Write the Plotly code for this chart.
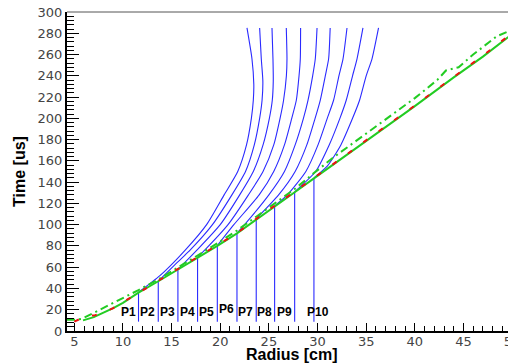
import plotly.graph_objects as go

# Probe positions and arrival times on the trajectory
probe_names = ["P1", "P2", "P3", "P4", "P5", "P6", "P7", "P8", "P9", "P10"]
probe_r = [11.6, 13.63, 15.65, 17.67, 19.7, 21.72, 23.7, 25.59, 27.65, 29.63]
probe_t = [36.4, 47.0, 58.0, 69.4, 80.3, 92.0, 105.5, 117.7, 130.9, 144.0]
probe_base_t = 8.8

# Red dashed trajectory
red_r = [5.0, 5.7, 6.3, 7.0, 8.0, 9.0, 10.0, 11.6, 13.63, 15.65, 17.67, 19.7, 21.72, 23.7,
         25.59, 27.65, 29.63, 33.0, 36.0, 40.0, 44.0, 47.0, 50.4]
red_t = [8.8, 12.0, 14.5, 14.5, 17.5, 21.5, 27.0, 36.4, 47.0, 58.0, 69.4, 80.3, 92.0, 105.5,
         117.7, 130.9, 144.0, 166.0, 186.0, 212.0, 239.0, 259.0, 283.0]

# Green solid line
gs_r = [5.9, 7.0, 8.0, 9.0, 10.0, 11.6, 13.63, 15.65, 17.67, 19.7, 21.72, 23.7,
        25.59, 27.65, 29.63, 33.0, 36.0, 40.0, 44.0, 47.0, 50.4]
gs_t = [10.0, 13.0, 17.3, 21.5, 26.5, 36.0, 46.8, 57.8, 69.2, 80.0, 91.8, 105.0,
        117.5, 130.5, 143.5, 165.5, 185.5, 211.5, 238.5, 258.0, 282.0]

# Green dash-dot line
gd_r = [4.25, 5.0, 5.8, 7.0, 8.5, 10.0, 11.6, 13.63, 15.65, 17.67, 19.7, 21.72, 23.7,
        25.59, 27.65, 29.63, 31.6, 34.0, 37.0, 40.0, 42.3, 43.2, 44.5, 46.0, 48.4, 50.4]
gd_t = [10.5, 10.5, 11.5, 17.0, 24.0, 31.0, 38.5, 48.5, 59.5, 71.0, 82.5, 94.5, 107.5,
        120.0, 133.5, 148.5, 163.0, 179.0, 199.0, 219.0, 236.0, 245.0, 248.0, 260.0, 277.0, 285.0]

# Blue curves starting from each probe point
curve_r = [
    [11.6, 13.8, 16.4, 18.6, 20.4, 21.8, 22.7, 23.2, 23.4, 23.45, 23.26, 22.75],
    [13.63, 15.3, 16.9, 19.2, 21.2, 22.6, 23.5, 24.05, 24.3, 24.38, 24.22, 24.05],
    [15.65, 17.6, 20.0, 22.0, 23.4, 24.4, 25.05, 25.35, 25.45, 25.42, 25.32],
    [17.67, 18.4, 20.8, 22.9, 24.4, 25.5, 26.15, 26.51, 26.8, 26.86, 26.79],
    [19.7, 21.4, 24.0, 25.5, 26.6, 27.35, 27.82, 28.1, 28.23, 28.26],
    [21.72, 22.5, 25.0, 26.6, 27.7, 28.55, 29.02, 29.5, 29.77, 29.95],
    [23.7, 26.0, 27.7, 28.9, 29.75, 30.28, 30.8, 31.14, 31.3],
    [25.59, 26.9, 28.8, 30.05, 31.0, 31.65, 32.2, 32.62, 33.03],
    [27.65, 29.8, 31.2, 32.3, 32.95, 33.6, 34.06, 34.67],
    [29.63, 31.0, 32.4, 33.6, 34.32, 35.0, 35.6, 36.27],
]
curve_t = [
    [36.4, 52.0, 76.0, 100.0, 128.0, 150.0, 175.0, 200.0, 217.0, 232.0, 256.0, 285.0],
    [47.0, 62.0, 76.0, 100.0, 128.0, 150.0, 175.0, 200.0, 217.0, 235.0, 256.0, 285.0],
    [58.0, 76.0, 100.0, 128.0, 150.0, 175.0, 200.0, 217.0, 235.0, 256.0, 285.0],
    [69.4, 76.0, 100.0, 128.0, 150.0, 175.0, 200.0, 217.0, 240.0, 256.0, 285.0],
    [80.3, 100.0, 128.0, 150.0, 175.0, 200.0, 217.0, 240.0, 256.0, 285.0],
    [92.0, 100.0, 128.0, 150.0, 175.0, 200.0, 217.0, 240.0, 256.0, 285.0],
    [105.5, 128.0, 150.0, 175.0, 200.0, 217.0, 240.0, 256.0, 285.0],
    [117.7, 128.0, 150.0, 175.0, 200.0, 217.0, 240.0, 256.0, 285.0],
    [130.9, 150.0, 175.0, 200.0, 217.0, 240.0, 256.0, 285.0],
    [144.0, 155.0, 175.0, 200.0, 217.0, 240.0, 256.0, 285.0],
]

label_t = [18.2, 18.2, 18.2, 18.2, 18.2, 20.4, 18.2, 18.2, 18.2, 18.2]

x_title = "Radius [cm]"
y_title = "Time [us]"

BLUE = "#2a2aff"
fig = go.Figure()

for r, t in zip(curve_r, curve_t):
    fig.add_trace(go.Scatter(x=r, y=t, mode="lines", line=dict(color=BLUE, width=1.1, shape="spline", smoothing=0.6),
                             showlegend=False, hoverinfo="skip"))

for r, t in zip(probe_r, probe_t):
    fig.add_trace(go.Scatter(x=[r, r], y=[probe_base_t, t], mode="lines",
                             line=dict(color=BLUE, width=1.1), showlegend=False, hoverinfo="skip"))

fig.add_trace(go.Scatter(x=gd_r, y=gd_t, mode="lines",
                         line=dict(color="#22cc22", width=2, dash="8px,4px,2px,4px"),
                         showlegend=False))
fig.add_trace(go.Scatter(x=gs_r, y=gs_t, mode="lines", line=dict(color="#22cc22", width=2),
                         showlegend=False))
fig.add_trace(go.Scatter(x=red_r, y=red_t, mode="lines",
                         line=dict(color="#ee1111", width=2, dash="5px,14px"),
                         showlegend=False))

for i, (name, r, t) in enumerate(zip(probe_names, probe_r, label_t)):
    if i < 9:
        fig.add_annotation(x=r, y=t, text="<b>%s</b>" % name, showarrow=False,
                           xanchor="right", xshift=-1, font=dict(family="Liberation Sans, Arial", size=12, color="#000"))
    else:
        fig.add_annotation(x=r, y=t, text="<b>%s</b>" % name, showarrow=False,
                           xanchor="center", xshift=4, font=dict(family="Liberation Sans, Arial", size=12, color="#000"))

# x-axis title as a paper annotation below the tick labels
fig.add_annotation(x=0.5, y=0, xref="paper", yref="paper", text="<b>%s</b>" % x_title,
                   showarrow=False, xanchor="center", yanchor="top", yshift=-13,
                   font=dict(family="Liberation Sans, Arial", size=16, color="#000"))

fig.add_shape(type="line", xref="paper", yref="paper", x0=0, x1=1, y0=1, y1=1,
              line=dict(color="#555555", width=1))

fig.update_layout(
    width=508, height=356,
    margin=dict(l=59, r=0, t=4, b=33),
    paper_bgcolor="white", plot_bgcolor="white",
    showlegend=False,
    xaxis=dict(range=[4.25, 50.4], tickmode="linear", tick0=5, dtick=5,
               ticks="inside", ticklen=8, tickwidth=1, tickcolor="#000",
               minor=dict(dtick=1, tick0=5, ticks="inside", ticklen=5, tickcolor="#000"),
               showline=True, linecolor="#000", linewidth=2, showgrid=False, zeroline=False,
               tickfont=dict(family="DejaVu Sans", size=13, color="#444"),
               ticklabeloverflow="allow", ticklabelstandoff=-3,
               automargin=False),
    yaxis=dict(range=[0, 300], tickmode="linear", tick0=0, dtick=20,
               ticks="inside", ticklen=12, tickwidth=1, tickcolor="#000",
               minor=dict(dtick=4, tick0=0, ticks="inside", ticklen=7, tickcolor="#000"),
               showline=True, linecolor="#000", linewidth=2, showgrid=False, zeroline=False,
               tickfont=dict(family="DejaVu Sans", size=13, color="#444"),
               ticklabeloverflow="allow",
               title=dict(text="<b>%s</b>" % y_title, font=dict(family="Liberation Sans, Arial", size=16, color="#000"),
                          standoff=8),
               automargin=False),
)

fig.write_html("out.html")
